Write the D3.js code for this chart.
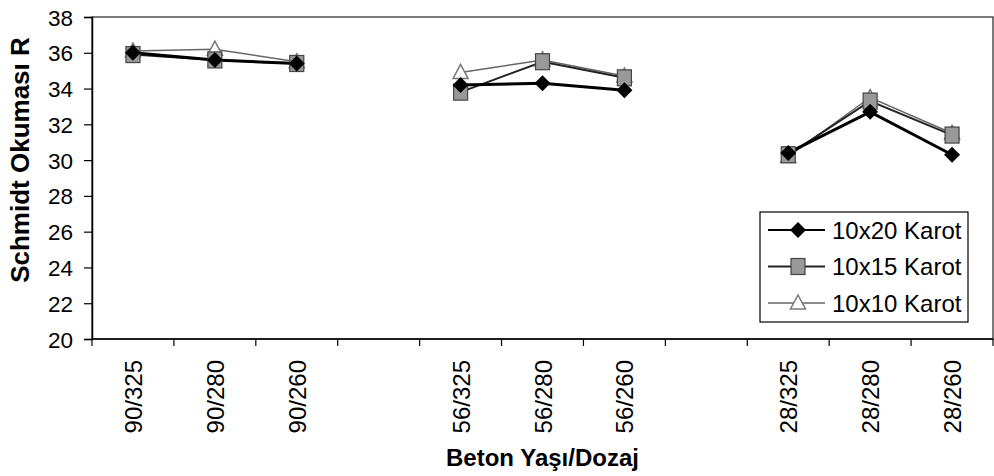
<!DOCTYPE html>
<html>
<head>
<meta charset="utf-8">
<script src="https://cdn.jsdelivr.net/npm/d3@7"></script>
<style>
    body { margin: 0; background: #fff; }
    text { font-family: "Liberation Sans", Arial, sans-serif; fill: #000; }
</style>
</head>
<body>
<script>
//age/dosage slots, blank entries keep the gaps between groups
var categories = ["90/325", "90/280", "90/260", "", "56/325", "56/280", "56/260", "", "28/325", "28/280", "28/260"];
var seriesNames = ["10x20 Karot", "10x15 Karot", "10x10 Karot"];
var karot20 = [36.0, 35.6, 35.4, null, 34.2, 34.3, 33.9, null, 30.4, 32.7, 30.3];
var karot15 = [35.9, 35.6, 35.4, null, 33.8, 35.5, 34.6, null, 30.3, 33.3, 31.4];
var karot10 = [36.1, 36.2, 35.5, null, 34.9, 35.6, 34.7, null, 30.2, 33.5, 31.5];
var yTicks = [20, 22, 24, 26, 28, 30, 32, 34, 36, 38];

(function () {

    var width = 994,
        height = 476;

    //plot area inside the svg
    var left = 92, right = 993, top = 17, bottom = 339;

    var svg = d3.select("body")
        .append("svg")
        .attr("width", width)
        .attr("height", height);

    var x = d3.scaleBand()
        .domain(d3.range(categories.length))
        .range([left, right])
        .padding(0);

    var y = d3.scaleLinear()
        .domain([20, 38])
        .range([bottom, top]);

    //plot frame
    svg.append("rect")
        .attr("x", left)
        .attr("y", top)
        .attr("width", right - left)
        .attr("height", bottom - top)
        .attr("fill", "none")
        .attr("stroke", "#222")
        .attr("stroke-width", 1.2);

    //y axis
    var yAxis = svg.append("g")
        .attr("transform", "translate(" + left + ",0)")
        .call(d3.axisLeft(y).tickValues(yTicks).tickSize(8).tickPadding(11));
    yAxis.select(".domain").attr("stroke", "#000").attr("stroke-width", 1.5);
    yAxis.selectAll(".tick line").attr("stroke", "#000").attr("stroke-width", 1.2);
    yAxis.selectAll("text")
        .style("font-family", "'Liberation Sans', Arial, sans-serif")
        .style("font-size", "22.5px")
        .attr("dy", "0.36em");

    //x axis: ticks sit between the slots
    var xAxis = svg.append("g")
        .attr("transform", "translate(0," + bottom + ")");
    xAxis.append("line")
        .attr("x1", left).attr("x2", right)
        .attr("stroke", "#000").attr("stroke-width", 1.5);
    xAxis.selectAll(".xtick")
        .data(d3.range(categories.length + 1))
        .enter()
        .append("line")
        .attr("class", "xtick")
        .attr("x1", function (d) { return left + d * x.step(); })
        .attr("x2", function (d) { return left + d * x.step(); })
        .attr("y1", 0)
        .attr("y2", 7)
        .attr("stroke", "#000")
        .attr("stroke-width", 1.2);
    xAxis.selectAll(".xlabel")
        .data(categories)
        .enter()
        .append("text")
        .attr("class", "xlabel")
        .attr("text-anchor", "end")
        .attr("transform", function (d, i) {
            return "translate(" + (x(i) + x.bandwidth() / 2 + 9) + ",21) rotate(-90)";
        })
        .style("font-size", "24px")
        .text(function (d) { return d; });

    //axis titles
    svg.append("text")
        .attr("text-anchor", "middle")
        .attr("transform", "translate(29,160) rotate(-90)")
        .style("font-size", "26px")
        .style("font-weight", "bold")
        .text("Schmidt Okuması R");

    svg.append("text")
        .attr("text-anchor", "middle")
        .attr("x", (left + right) / 2)
        .attr("y", 466)
        .style("font-size", "24px")
        .style("font-weight", "bold")
        .text("Beton Yaşı/Dozaj");

    //series styles
    var series = [
        { name: seriesNames[0], values: karot20, stroke: "#000", width: 3, marker: "diamond" },
        { name: seriesNames[1], values: karot15, stroke: "#222", width: 2, marker: "square" },
        { name: seriesNames[2], values: karot10, stroke: "#666", width: 1.5, marker: "triangle" }
    ];

    var line = d3.line()
        .defined(function (d) { return d != null; })
        .x(function (d, i) { return x(i) + x.bandwidth() / 2; })
        .y(function (d) { return y(d); });

    function drawMarker(g, type) {
        if (type == "diamond") {
            g.append("path")
                .attr("d", "M0,-8L8,0L0,8L-8,0Z")
                .attr("fill", "#000");
        } else if (type == "square") {
            g.append("rect")
                .attr("x", -7).attr("y", -8)
                .attr("width", 14).attr("height", 16)
                .attr("fill", "#999")
                .attr("stroke", "#444")
                .attr("stroke-width", 1.2);
        } else {
            g.append("path")
                .attr("d", "M0,-8L7.5,6L-7.5,6Z")
                .attr("fill", "#fff")
                .attr("stroke", "#777")
                .attr("stroke-width", 1.5);
        }
    }

    //draw back to front so the 10x20 line is on top
    series.slice().reverse().forEach(function (s) {
        svg.append("path")
            .datum(s.values)
            .attr("fill", "none")
            .attr("stroke", s.stroke)
            .attr("stroke-width", s.width)
            .attr("d", line);
    });
    series.slice().reverse().forEach(function (s) {
        s.values.forEach(function (v, i) {
            if (v == null) return;
            var g = svg.append("g")
                .attr("transform", "translate(" + (x(i) + x.bandwidth() / 2) + "," + y(v) + ")");
            drawMarker(g, s.marker);
        });
    });

    //legend box
    var legend = svg.append("g").attr("transform", "translate(760,212)");
    legend.append("rect")
        .attr("width", 208)
        .attr("height", 110)
        .attr("fill", "#fff")
        .attr("stroke", "#000")
        .attr("stroke-width", 1.2);

    var items = legend.selectAll(".item")
        .data(series)
        .enter()
        .append("g")
        .attr("class", "item")
        .attr("transform", function (d, i) { return "translate(0," + (18 + i * 36.5) + ")"; });

    items.append("line")
        .attr("x1", 8).attr("x2", 65)
        .attr("stroke", function (d) { return d.stroke; })
        .attr("stroke-width", function (d) { return Math.min(d.width, 2); });
    items.each(function (d) {
        var g = d3.select(this).append("g").attr("transform", "translate(38,0)");
        drawMarker(g, d.marker);
    });
    items.append("text")
        .attr("x", 72)
        .attr("dy", "0.36em")
        .style("font-size", "24px")
        .text(function (d) { return d.name; });

})();
</script>
</body>
</html>
